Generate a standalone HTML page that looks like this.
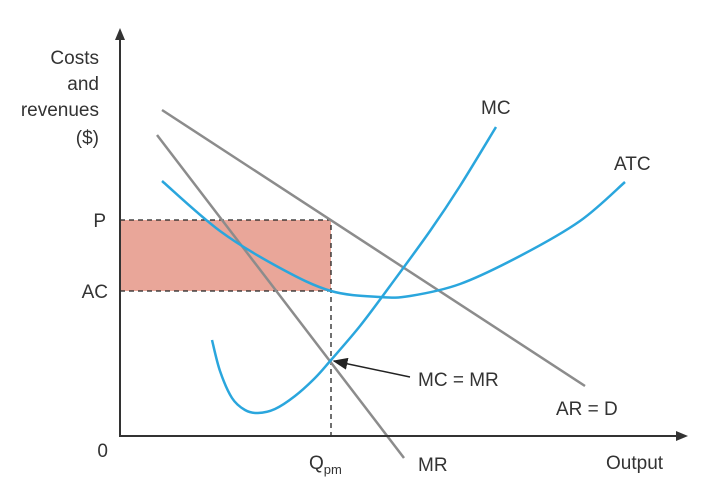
<!DOCTYPE html>
<html><head><meta charset="utf-8"><style>
body{margin:0;background:#fff}
svg text{font-family:"Liberation Sans",sans-serif;fill:#333;font-size:19px}
</style></head><body>
<svg width="708" height="488" viewBox="0 0 708 488" xmlns="http://www.w3.org/2000/svg">
<defs><marker id="ah" markerWidth="10" markerHeight="8" refX="9" refY="4" orient="auto"><path d="M0,0 L10,4 L0,8 z" fill="#222"/></marker></defs>
<g id="plot"></g>
<text x="99" y="64" text-anchor="end">Costs</text>
<text x="99" y="90" text-anchor="end">and</text>
<text x="99" y="116" text-anchor="end">revenues</text>
<text x="99" y="144" text-anchor="end">($)</text>
<text x="106" y="227" text-anchor="end">P</text>
<text x="108" y="298" text-anchor="end">AC</text>
<text x="108" y="457" text-anchor="end">0</text>
<text x="309" y="469">Q<tspan font-size="13" dy="5">pm</tspan></text>
<text x="418" y="471">MR</text>
<text x="606" y="469">Output</text>
<text x="556" y="415">AR = D</text>
<text x="418" y="386">MC = MR</text>
<text x="481" y="114">MC</text>
<text x="614" y="170">ATC</text>
<line x1="410" y1="377" x2="334" y2="361" stroke="#222" stroke-width="1.5" marker-end="url(#ah)"/>
</svg>
<script>
const arPts=[[42,326],[465,50]];
const mrPts=[[37,301],[284,-22]];
const mcPts=[[92,96],[100,65],[112,38],[125,26],[138,23],[155,27],[175,40],[195,58],[211,76],[240,110],[270,150],[310,205],[340,250],[376,309]];
const atcPts=[[42,255],[100,205],[160,168],[211,145],[260,139],[290,140],[340,152],[400,180],[460,215],[505,254]];
const qpm=211, price=216, avgCost=145;
const X=v=>120+v, Y=v=>436-v;
const ns="http://www.w3.org/2000/svg", g=document.getElementById('plot');
function mk(t,a){const e=document.createElementNS(ns,t);for(const k in a)e.setAttribute(k,a[k]);g.appendChild(e);return e;}
function smooth(p){const q=p.map(d=>[X(d[0]),Y(d[1])]);let s="M"+q[0];for(let i=0;i<q.length-1;i++){const p0=q[i-1]||q[i],p1=q[i],p2=q[i+1],p3=q[i+2]||p2;s+=" C"+(p1[0]+(p2[0]-p0[0])/6)+","+(p1[1]+(p2[1]-p0[1])/6)+" "+(p2[0]-(p3[0]-p1[0])/6)+","+(p2[1]-(p3[1]-p1[1])/6)+" "+p2;}return s;}
let r=mk('rect',{x:X(0),y:Y(price),width:X(qpm)-X(0),height:Y(avgCost)-Y(price),fill:'#e9a699'});


let d1=mk('path',{d:`M${X(0)},${Y(price)} H${X(qpm)} V${Y(0)} M${X(0)},${Y(avgCost)} H${X(qpm)}`,fill:'none',stroke:'#222','stroke-width':1.3,'stroke-dasharray':'5,4'});


let ar=mk('line',{x1:X(arPts[0][0]),y1:Y(arPts[0][1]),x2:X(arPts[1][0]),y2:Y(arPts[1][1]),stroke:'#8c8c8c','stroke-width':2.5});


let mr=mk('line',{x1:X(mrPts[0][0]),y1:Y(mrPts[0][1]),x2:X(mrPts[1][0]),y2:Y(mrPts[1][1]),stroke:'#8c8c8c','stroke-width':2.5});


let mc=mk('path',{d:smooth(mcPts),fill:'none',stroke:'#2aa6dd','stroke-width':2.5});


let atc=mk('path',{d:smooth(atcPts),fill:'none',stroke:'#2aa6dd','stroke-width':2.5});


let ax=mk('path',{d:`M120,38 V436 H678`,fill:'none',stroke:'#333','stroke-width':2});


let ya=mk('path',{d:'M120,28 L115,40 L125,40 z',fill:'#333'});


let xa=mk('path',{d:'M688,436 L676,431 L676,441 z',fill:'#333'});


</script>
</body></html>
